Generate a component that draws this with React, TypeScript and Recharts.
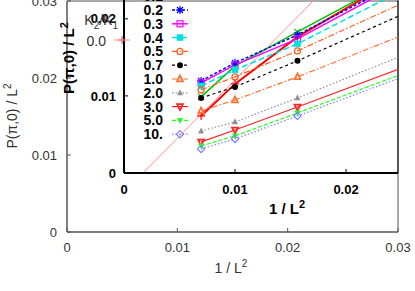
import React from 'react';
import { LineChart, Line, XAxis, YAxis, ReferenceArea } from 'recharts';

const FONT = "'Liberation Sans', Arial, Helvetica, sans-serif";

// x values: 1/L^2 for L = 12, 10, 8, 6
const invL2 = [1 / 144, 1 / 100, 1 / 64, 1 / 36];

const k00 = [0.0074, 0.01156, 0.01766, 0.0279];
const k01 = [0.00987, 0.0139, 0.01831, 0.0277];
const k02 = [0.01195, 0.01429, 0.01792, 0.0269];
const k03 = [0.01169, 0.01403, 0.0174, 0.0268];
const k04 = [0.0113, 0.01338, 0.01675, 0.0257];
const k05 = [0.01078, 0.01247, 0.01584, 0.0238];
const k07 = [0.00974, 0.01117, 0.01455, 0.0223];
const k10 = [0.00805, 0.00948, 0.01247, 0.0194];
const k20 = [0.00545, 0.00662, 0.00974, 0.0168];
const k30 = [0.00403, 0.00558, 0.00857, 0.0151];
const k50 = [0.00351, 0.00481, 0.00779, 0.0143];
const k100 = [0.00312, 0.00442, 0.0074, 0.0139];

// straight fit line in the inset
const fitX = [0.0017, 0.0182];
const fitY = [0, 0.024];

const outerTicks = [0, 0.01, 0.02, 0.03];
const insetTicks = [0, 0.01, 0.02];
const legendLabels = ['0.0', '0.1', '0.2', '0.3', '0.4', '0.5', '0.7', '1.0', '2.0', '3.0', '5.0', '10.'];
const outerLegendLabel = '0.0';

type S = { key: string; vals: number[]; color: string; dash?: string; width: number; shape: string };

const series: S[] = [
  { key: 'k00', vals: k00, color: '#ff0000', width: 2, shape: 'plus' },
  { key: 'k01', vals: k01, color: '#00c000', width: 1.5, shape: 'cross' },
  { key: 'k02', vals: k02, color: '#0000ff', dash: '3 2', width: 1.5, shape: 'star' },
  { key: 'k03', vals: k03, color: '#ff00ff', width: 1.5, shape: 'osq' },
  { key: 'k04', vals: k04, color: '#00e0e0', dash: '6 3', width: 1.5, shape: 'fsq' },
  { key: 'k05', vals: k05, color: '#ff6020', dash: '6 2 1.5 2', width: 1.2, shape: 'ocirc' },
  { key: 'k07', vals: k07, color: '#000000', dash: '3 3', width: 1.2, shape: 'fcirc' },
  { key: 'k10', vals: k10, color: '#ff7030', dash: '6 2 1.5 2', width: 1.2, shape: 'otri' },
  { key: 'k20', vals: k20, color: '#909090', dash: '1.5 2', width: 1.2, shape: 'ftri' },
  { key: 'k30', vals: k30, color: '#ff2020', width: 1.2, shape: 'oitri' },
  { key: 'k50', vals: k50, color: '#20ff20', dash: '4 2', width: 1.2, shape: 'fitri' },
  { key: 'k100', vals: k100, color: '#8080ff', dash: '1.5 2', width: 1.2, shape: 'odia' },
];

const insetRows = invL2.map((x, i) => {
  const r: Record<string, number> = { x };
  series.forEach((s) => (r[s.key] = s.vals[i]));
  return r;
});
const fitRows = fitX.map((x, i) => ({ x, fit: fitY[i] }));

function shapeEl(shape: string, x: number, y: number, c: string) {
  const s = 3;
  const sw = 1.2;
  switch (shape) {
    case 'plus':
      return <path d={`M${x - s - 1},${y}H${x + s + 1}M${x},${y - s - 1}V${y + s + 1}`} stroke={c} strokeWidth={sw} fill="none" />;
    case 'cross':
      return <path d={`M${x - s},${y - s}L${x + s},${y + s}M${x - s},${y + s}L${x + s},${y - s}`} stroke={c} strokeWidth={sw} fill="none" />;
    case 'star':
      return (
        <path
          d={`M${x - s},${y - s}L${x + s},${y + s}M${x - s},${y + s}L${x + s},${y - s}M${x - s - 1},${y}H${x + s + 1}M${x},${y - s - 1}V${y + s + 1}`}
          stroke={c}
          strokeWidth={sw}
          fill="none"
        />
      );
    case 'osq':
      return <rect x={x - s} y={y - s} width={2 * s} height={2 * s} fill="none" stroke={c} strokeWidth={sw} />;
    case 'fsq':
      return <rect x={x - s} y={y - s} width={2 * s} height={2 * s} fill={c} stroke={c} strokeWidth={0.5} />;
    case 'ocirc':
      return <circle cx={x} cy={y} r={s} fill="none" stroke={c} strokeWidth={sw} />;
    case 'fcirc':
      return <circle cx={x} cy={y} r={s} fill={c} />;
    case 'otri':
      return <polygon points={`${x},${y - s * 1.2} ${x - s},${y + s * 0.8} ${x + s},${y + s * 0.8}`} fill="none" stroke={c} strokeWidth={sw * 1.4} />;
    case 'ftri':
      return <polygon points={`${x},${y - s * 1.2} ${x - s},${y + s * 0.8} ${x + s},${y + s * 0.8}`} fill={c} />;
    case 'oitri':
      return <polygon points={`${x},${y + s * 1.2} ${x - s},${y - s * 0.8} ${x + s},${y - s * 0.8}`} fill="none" stroke={c} strokeWidth={sw * 1.4} />;
    case 'fitri':
      return <polygon points={`${x},${y + s * 1.2} ${x - s},${y - s * 0.8} ${x + s},${y - s * 0.8}`} fill={c} />;
    case 'odia':
      return <polygon points={`${x},${y - s * 1.2} ${x + s * 1.2},${y} ${x},${y + s * 1.2} ${x - s * 1.2},${y}`} fill="none" stroke={c} strokeWidth={sw} />;
    default:
      return null;
  }
}

const dotFor = (shape: string, color: string) => (props: any) => {
  const { cx, cy, index } = props;
  if (cx == null || cy == null || isNaN(cx) || isNaN(cy)) return <g key={`d-${shape}-${index}`} />;
  return <g key={`d-${shape}-${index}`}>{shapeEl(shape, cx, cy, color)}</g>;
};

const fmt = (v: number) => String(v);

export default function App() {
  const rowY = (i: number) => -17.6 + 13.8 * i;
  return (
    <div style={{ position: 'absolute', left: 0, top: 0, width: 415, height: 291, overflow: 'hidden', background: '#fff' }}>
      {/* outer plot */}
      <div style={{ position: 'absolute', left: 0, top: 0 }}>
        <LineChart width={415} height={291} margin={{ top: 1, right: 17, bottom: 0, left: 0 }} data={[]}>
          <XAxis
            type="number"
            dataKey="x"
            domain={[0, 0.03]}
            ticks={outerTicks}
            interval={0}
            tickFormatter={fmt}
            height={59}
            allowDataOverflow
            axisLine={{ stroke: '#555' }}
            tickLine={{ stroke: '#555' }}
            tickSize={-4}
            tickMargin={15}
            tick={{ fill: '#333', fontSize: 13, fontFamily: FONT }}
          />
          <YAxis
            type="number"
            domain={[0, 0.03]}
            ticks={outerTicks}
            interval={0}
            tickFormatter={fmt}
            width={67}
            allowDataOverflow
            axisLine={{ stroke: '#555' }}
            tickLine={{ stroke: '#555' }}
            tickSize={-4}
            tickMargin={14}
            tick={{ fill: '#333', fontSize: 13, fontFamily: FONT }}
          />
          <ReferenceArea x1={0} x2={0.03} y1={0} y2={0.03} fill="none" stroke="#555" strokeWidth={1} ifOverflow="visible" />
        </LineChart>
      </div>

      {/* inset plot */}
      <div style={{ position: 'absolute', left: 0, top: -40 }}>
        <LineChart width={415} height={331} margin={{ top: 28, right: 17, bottom: 0, left: 0 }} data={insetRows}>
          <XAxis
            type="number"
            dataKey="x"
            domain={[0, 0.02468]}
            ticks={insetTicks}
            interval={0}
            tickFormatter={fmt}
            height={118}
            allowDataOverflow
            axisLine={{ stroke: '#000', strokeWidth: 2 }}
            tickLine={{ stroke: '#000' }}
            tickSize={-4}
            tickMargin={16}
            tick={{ fill: '#000', fontSize: 13, fontWeight: 'bold', fontFamily: FONT }}
          />
          <YAxis
            type="number"
            domain={[0, 0.024]}
            ticks={insetTicks}
            interval={0}
            tickFormatter={fmt}
            width={124}
            allowDataOverflow
            axisLine={{ stroke: '#000', strokeWidth: 2 }}
            tickLine={{ stroke: '#000' }}
            tickSize={-4}
            tickMargin={12}
            tick={{ fill: '#000', fontSize: 13, fontWeight: 'bold', fontFamily: FONT }}
          />
          <ReferenceArea x1={0} x2={0.02468} y1={0} y2={0.024} fill="none" stroke="#000" strokeWidth={1} ifOverflow="visible" />
          <Line data={fitRows} dataKey="fit" stroke="#ff9090" strokeWidth={1} dot={false} activeDot={false} isAnimationActive={false} />
          {series.map((s) => (
            <Line
              key={s.key}
              dataKey={s.key}
              stroke={s.color}
              strokeWidth={s.width}
              strokeDasharray={s.dash}
              dot={dotFor(s.shape, s.color)}
              activeDot={false}
              isAnimationActive={false}
            />
          ))}
        </LineChart>
      </div>

      {/* labels and legends */}
      <svg width={415} height={291} style={{ position: 'absolute', left: 0, top: 0, pointerEvents: 'none' }} fontFamily={FONT}>
        {/* outer axis titles */}
        <text x={231} y={273} textAnchor="middle" fontSize={14} fill="#333">
          1 / L<tspan dy={-6} fontSize={10}>2</tspan>
        </text>
        <text transform="translate(17,116) rotate(-90)" textAnchor="middle" fontSize={14} fill="#333">
          P(π,0) / L<tspan dy={-6} fontSize={10}>2</tspan>
        </text>
        {/* outer legend */}
        <text x={118} y={25} textAnchor="end" fontSize={14} fill="#333">
          K<tspan dy={4} fontSize={10}>2</tspan>
          <tspan dy={-4}>/K</tspan>
          <tspan dy={4} fontSize={10}>1</tspan>
        </text>
        <text x={106} y={46} textAnchor="end" fontSize={14} fill="#333">
          {outerLegendLabel}
        </text>
        <line x1={114} x2={130} y1={40} y2={40} stroke="#ff9090" strokeWidth={1} />
        {shapeEl('plus', 122, 40, '#ff6060')}

        {/* inset axis titles */}
        <text x={287} y={214} textAnchor="middle" fontSize={15} fontWeight="bold" fill="#000">
          1 / L<tspan dy={-6} fontSize={11}>2</tspan>
        </text>
        <text transform="translate(74,58) rotate(-90)" textAnchor="middle" fontSize={15} fontWeight="bold" fill="#000">
          P(π,0) / L<tspan dy={-6} fontSize={11}>2</tspan>
        </text>

        {/* inset legend */}
        {series.map((s, i) => (
          <g key={`lg-${s.key}`}>
            <text x={163} y={rowY(i) + 5} textAnchor="end" fontSize={14} fontWeight="bold" fill="#000">
              {legendLabels[i]}
            </text>
            <line x1={172} x2={188} y1={rowY(i)} y2={rowY(i)} stroke={s.color} strokeWidth={s.width} strokeDasharray={s.dash} />
            {shapeEl(s.shape, 180, rowY(i), s.color)}
          </g>
        ))}
      </svg>
    </div>
  );
}
